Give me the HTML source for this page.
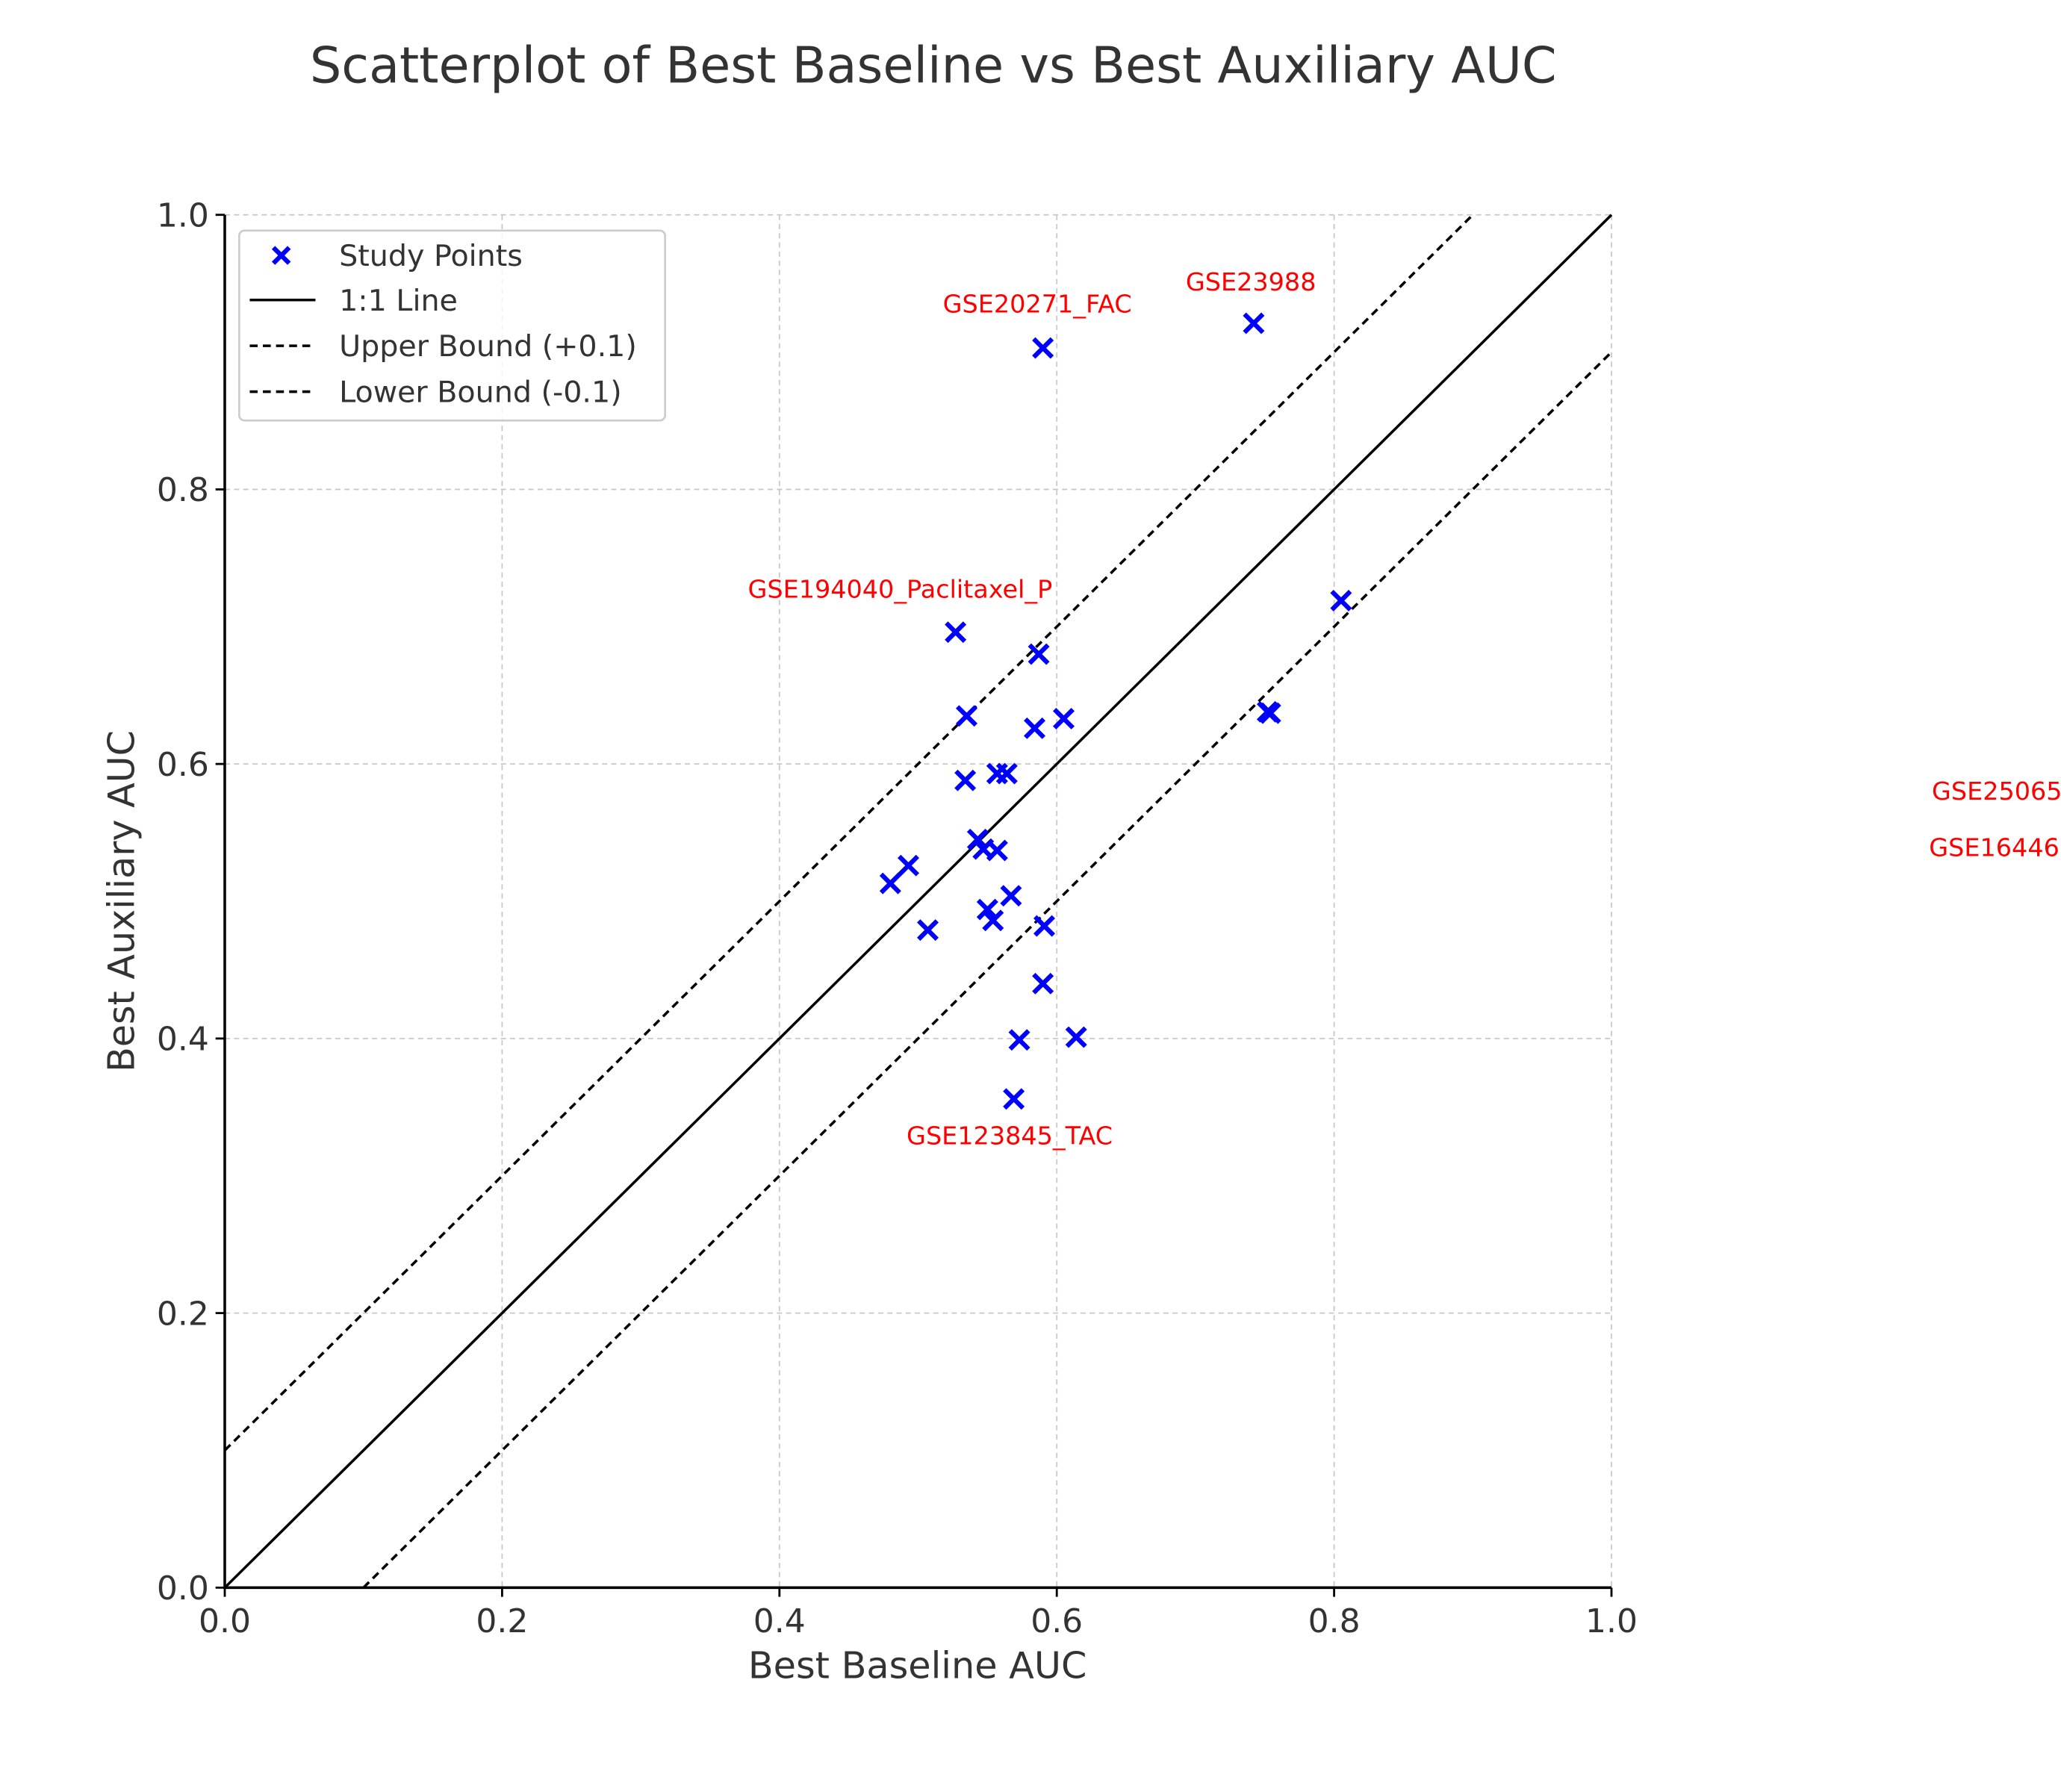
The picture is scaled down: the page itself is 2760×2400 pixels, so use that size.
<!DOCTYPE html>
<html><head><meta charset="utf-8"><style>
html,body{margin:0;padding:0;background:#fff;}
svg{display:block;font-family:"DejaVu Sans","Liberation Sans",sans-serif;}
</style></head><body>
<svg id="chart" width="2760" height="2400" viewBox="0 0 1568 1368" preserveAspectRatio="none" xmlns="http://www.w3.org/2000/svg">
<rect width="1568" height="1368" fill="#fff"/>
<text x="710" y="63" text-anchor="middle" font-size="38" fill="#333">Scatterplot of Best Baseline vs Best Auxiliary AUC</text>
<g id="grid"></g>
<g id="lines"></g>
<g id="axes"></g>
<g id="points"></g>
<g id="labels"></g>
<text x="698" y="1281" text-anchor="middle" font-size="28" fill="#333">Best Baseline AUC</text>
<text transform="translate(102,688) rotate(-90)" text-anchor="middle" font-size="28" fill="#333">Best Auxiliary AUC</text>
<g>
<rect x="182" y="176" width="324" height="145" rx="4" fill="#fff" fill-opacity="0.8" stroke="#ccc" stroke-width="1.5"/>
<g stroke="#0000ff" stroke-width="3.5"><line x1="208" y1="189" x2="220" y2="201"/><line x1="208" y1="201" x2="220" y2="189"/></g>
<text x="258" y="203" font-size="22.5" fill="#333">Study Points</text>
<line x1="190" y1="229" x2="240" y2="229" stroke="#000" stroke-width="2"/>
<text x="258" y="237" font-size="22.5" fill="#333">1:1 Line</text>
<line x1="190" y1="264" x2="240" y2="264" stroke="#000" stroke-width="2" stroke-dasharray="6,4"/>
<text x="258" y="272" font-size="22.5" fill="#333">Upper Bound (+0.1)</text>
<line x1="190" y1="299" x2="240" y2="299" stroke="#000" stroke-width="2" stroke-dasharray="6,4"/>
<text x="258" y="307" font-size="22.5" fill="#333">Lower Bound (-0.1)</text>
</g>
</svg>
<script>
const baselineAUC = [0.590,0.742,0.805,0.527,0.587,0.535,0.605,0.584,0.752,0.754,0.534,0.557,0.564,0.543,0.547,0.557,0.493,0.480,0.567,0.550,0.554,0.507,0.591,0.590,0.573,0.614,0.569];
const auxiliaryAUC = [0.903,0.921,0.719,0.696,0.680,0.635,0.633,0.626,0.638,0.637,0.588,0.593,0.593,0.545,0.538,0.537,0.526,0.513,0.504,0.494,0.486,0.479,0.482,0.440,0.399,0.401,0.356];
const tickValues = [0,0.2,0.4,0.6,0.8,1.0];
const tickLabels = ["0.0","0.2","0.4","0.6","0.8","1.0"];
const annotNames = ["GSE20271_FAC","GSE23988","GSE194040_Paclitaxel_P","GSE123845_TAC","GSE25065","GSE16446"];
const annotX = [0.586,0.740,0.487,0.566,1.231,1.229];
const annotY = [0.929,0.945,0.721,0.323,0.574,0.533];

const NS="http://www.w3.org/2000/svg";
const X0=171,X1=1226,Y0=1212,Y1=164;
function sx(v){return X0+(X1-X0)*v;}
function sy(v){return Y0-(Y0-Y1)*v;}
function mk(tag,attrs,parent){const e=document.createElementNS(NS,tag);for(const k in attrs)e.setAttribute(k,attrs[k]);parent.appendChild(e);return e;}
const grid=document.getElementById('grid'),lines=document.getElementById('lines'),axes=document.getElementById('axes'),pts=document.getElementById('points'),labs=document.getElementById('labels');
tickValues.forEach((t,i)=>{
  const gx=mk('line',{x1:sx(t),x2:sx(t),y1:Y1,y2:Y0,stroke:'#c8c8c8','stroke-width':1,'stroke-dasharray':'4,3'},grid);
  
  
  const gy=mk('line',{x1:X0,x2:X1,y1:sy(t),y2:sy(t),stroke:'#c8c8c8','stroke-width':1,'stroke-dasharray':'4,3'},grid);
  
  
  const tx=mk('line',{x1:sx(t),x2:sx(t),y1:Y0,y2:Y0+7,stroke:'#000','stroke-width':1.6},axes);
  
  
  const lx=mk('text',{x:sx(t),y:Y0+34,'text-anchor':'middle','font-size':25,fill:'#333'},axes);
  lx.textContent=tickLabels[i];
  
  
  const ty=mk('line',{x1:X0-7,x2:X0,y1:sy(t),y2:sy(t),stroke:'#000','stroke-width':1.6},axes);
  
  
  const ly=mk('text',{x:X0-12,y:sy(t)+9,'text-anchor':'end','font-size':25,fill:'#333'},axes);
  ly.textContent=tickLabels[i];
  
  
});
const ax=mk('path',{d:`M${X0},${Y1}V${Y0}H${X1}`,fill:'none',stroke:'#000','stroke-width':2},axes);


const l1=mk('line',{x1:sx(0),y1:sy(0),x2:sx(1),y2:sy(1),stroke:'#000','stroke-width':2},lines);


const lu=mk('line',{x1:sx(0),y1:sy(0.1),x2:sx(0.9),y2:sy(1),stroke:'#000','stroke-width':2,'stroke-dasharray':'6,4'},lines);


const ll=mk('line',{x1:sx(0.1),y1:sy(0),x2:sx(1),y2:sy(0.9),stroke:'#000','stroke-width':2,'stroke-dasharray':'6,4'},lines);


baselineAUC.forEach((b,i)=>{
  const cx=sx(b),cy=sy(auxiliaryAUC[i]),r=7;
  const p=mk('path',{d:`M${cx-r},${cy-r}L${cx+r},${cy+r}M${cx-r},${cy+r}L${cx+r},${cy-r}`,stroke:'#0000ff','stroke-width':3.5,fill:'none'},pts);
  
  
});
annotNames.forEach((n,i)=>{
  const anchor = i>=4 ? 'start' : 'middle';
  const t=mk('text',{x:sx(annotX[i]),y:sy(annotY[i]),'text-anchor':anchor,'font-size':19,fill:'#ff0000'},labs);
  t.textContent=n;
  
  
});
</script>
</body></html>
